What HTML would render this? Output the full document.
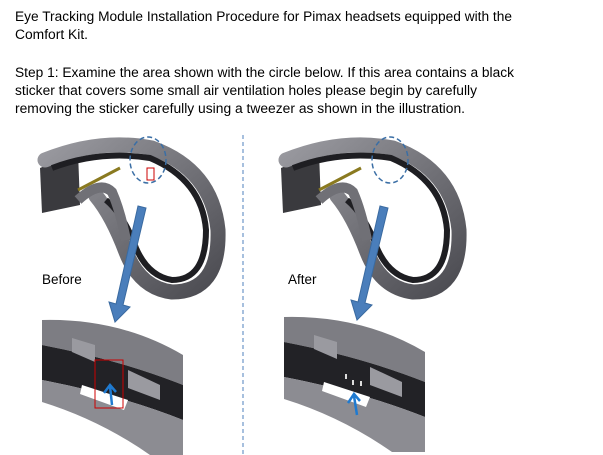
<!DOCTYPE html>
<html><head><meta charset="utf-8"><style>
html,body{margin:0;padding:0;background:#fff;}
svg{display:block;}
text{font-family:"Liberation Sans",sans-serif;font-size:13.5px;fill:#000;}
</style></head><body>
<svg width="603" height="455" viewBox="0 0 603 455">
<defs>
<linearGradient id="g1" x1="0" y1="0" x2="1" y2="1"><stop offset="0" stop-color="#9a9aa0"/><stop offset="1" stop-color="#4a4a50"/></linearGradient>
<g id="hs">
  <path d="M40 168 L78 152 L80 205 L42 213 Z" fill="#3a3a3e"/>
  <path d="M45 160 Q100 138 152 148 Q212 170 218 230 Q220 292 172 292 Q140 288 126 252 Q112 215 96 196" fill="none" stroke="url(#g1)" stroke-width="15" stroke-linecap="round"/>
  <path d="M52 168 Q100 150 150 158 Q202 180 206 230 Q206 280 172 280 Q148 276 136 248 Q124 215 106 200" fill="none" stroke="#1e1e22" stroke-width="6"/>
  <path d="M78 190 L120 168" stroke="#8a7a20" stroke-width="3"/>
  <path d="M78 200 Q100 180 112 192 Q120 210 126 240" fill="none" stroke="#707076" stroke-width="10"/>
</g>
</defs>
<text x="15" y="21" textLength="497" lengthAdjust="spacingAndGlyphs">Eye Tracking Module Installation Procedure for Pimax headsets equipped with the</text>
<text x="15" y="39" textLength="73" lengthAdjust="spacingAndGlyphs">Comfort Kit.</text>
<text x="15" y="77" textLength="499" lengthAdjust="spacingAndGlyphs">Step 1: Examine the area shown with the circle below. If this area contains a black</text>
<text x="15" y="95" textLength="462" lengthAdjust="spacingAndGlyphs">sticker that covers some small air ventilation holes please begin by carefully</text>
<text x="15" y="113" textLength="450" lengthAdjust="spacingAndGlyphs">removing the sticker carefully using a tweezer as shown in the illustration.</text>

<line x1="243" y1="135" x2="243" y2="455" stroke="#4f81bd" stroke-width="1" stroke-dasharray="4,3"/>

<use href="#hs"/>
<use href="#hs" transform="translate(241,0)"/>
<ellipse cx="148" cy="160" rx="18" ry="23" fill="none" stroke="#3a6ea5" stroke-width="1.5" stroke-dasharray="5,3"/>
<ellipse cx="390" cy="160" rx="18" ry="23" fill="none" stroke="#3a6ea5" stroke-width="1.5" stroke-dasharray="5,3"/>
<rect x="147" y="168" width="7" height="12" fill="none" stroke="#c00" stroke-width="1"/>

<text x="42" y="284">Before</text>
<text x="288" y="284">After</text>

<!-- closeups -->
<g id="cu">
<path d="M42 320 Q120 318 183 355 L183 385 Q120 360 42 345 Z" fill="#7d7d83"/>
<path d="M42 345 Q120 360 183 385 L183 420 Q120 395 42 380 Z" fill="#222226"/>
<path d="M42 380 Q120 395 183 420 L183 455 L150 455 Q100 420 42 402 Z" fill="#8c8c92"/>
<path d="M72 338 L95 345 L95 362 L72 352 Z" fill="#9a9aa0"/>
<path d="M128 370 L160 385 L160 400 L128 388 Z" fill="#9a9aa0"/>
<path d="M82 385 L128 400 L124 410 L80 394 Z" fill="#fff"/>
</g>
<rect x="95" y="360" width="28" height="48" fill="none" stroke="#c00" stroke-width="1"/>
<use href="#cu" transform="translate(242,-3)"/>
<g fill="#ddd"><rect x="345" y="374" width="2" height="5"/><rect x="352" y="380" width="2" height="5"/><rect x="360" y="381" width="2" height="5"/></g>

<!-- small arrows -->
<g stroke="#1f7ad0" stroke-width="2.5" fill="none"><path d="M112 405 L110 386 M104 393 L110 385 L116 392"/><path d="M357 415 L354 396 M348 403 L354 394 L360 401"/></g>

<!-- big arrows -->
<g fill="#4a7ebb" stroke="#3a6aa0" stroke-width="1">
<path d="M138 206 L146 208 L123 305 L130 307 L115 322 L109 302 L116 304 Z"/>
<path d="M380 206 L388 208 L365 303 L372 305 L357 320 L351 300 L358 302 Z"/>
</g>
</svg>
</body></html>
